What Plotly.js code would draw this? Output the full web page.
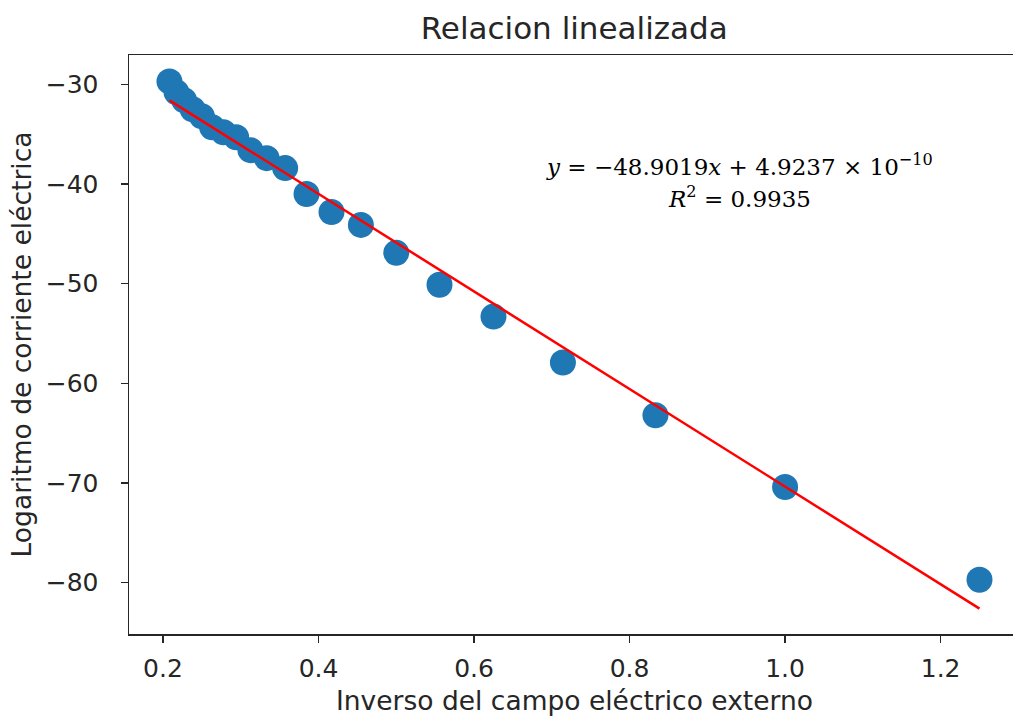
<!DOCTYPE html>
<html>
<head>
<meta charset="utf-8">
<script src="https://cdn.plot.ly/plotly-3.0.1.min.js"></script>
<style>
html, body { margin: 0; padding: 0; overflow: hidden; background: #fff; }
#chart { width: 1030px; height: 721px; }
</style>
</head>
<body>
<div id="chart"></div>
<script>
// Inverse of external electric field (x) and log of current (y)
const invField = [0.2083, 0.2174, 0.2273, 0.2381, 0.25, 0.2632, 0.2778, 0.2941, 0.3125, 0.3333,
                  0.3571, 0.3846, 0.4167, 0.4545, 0.5, 0.5556, 0.625, 0.7143, 0.8333, 1.0, 1.25];
const logCurrent = [-29.7, -30.8, -31.6, -32.5, -33.2, -34.3, -34.8, -35.3, -36.6, -37.4,
                    -38.4, -41.0, -42.8, -44.1, -46.9, -50.1, -53.3, -57.9, -63.2, -70.4, -79.7];
// Fitted line end points
const fitX = [0.2083, 1.25];
const fitY = [-31.6, -82.6];
const xTicks = [0.2, 0.4, 0.6, 0.8, 1.0, 1.2];
const xTickText = ['0.2', '0.4', '0.6', '0.8', '1.0', '1.2'];
const yTicks = [-30, -40, -50, -60, -70, -80];
const eqLine = '<i>y</i> = −48.9019<i>x</i> + 4.9237 × 10<sup>−10</sup>';
const r2Line = '<i>R</i><sup>2</sup> = 0.9935';

const tickFont = { family: 'DejaVu Sans', size: 25, color: '#262626' };
const labelFont = { family: 'DejaVu Sans', size: 26.5, color: '#262626' };

const data = [
  {
    x: invField, y: logCurrent, type: 'scatter', mode: 'markers',
    marker: { color: '#1f77b4', size: 26 }, hoverinfo: 'skip'
  },
  {
    x: fitX, y: fitY, type: 'scatter', mode: 'lines',
    line: { color: '#ff0000', width: 2.5 }, hoverinfo: 'skip'
  }
];

const layout = {
  width: 1030, height: 721,
  margin: { l: 129, r: 10, t: 55, b: 87 },
  paper_bgcolor: '#ffffff', plot_bgcolor: '#ffffff',
  showlegend: false,
  font: { family: 'DejaVu Sans' },
  title: {
    text: 'Relacion linealizada',
    font: { family: 'DejaVu Sans', size: 31, color: '#262626' },
    x: 0.5575, xref: 'container', xanchor: 'center',
    y: 1 - 28 / 721, yref: 'container', yanchor: 'middle'
  },
  xaxis: {
    range: [0.1563, 1.3021],
    tickvals: xTicks, ticktext: xTickText,
    ticks: 'outside', ticklen: 7, tickwidth: 1.3, tickcolor: '#262626',
    showline: true, linecolor: '#262626', linewidth: 1.5, mirror: true,
    showgrid: false, zeroline: false,
    tickfont: tickFont, ticklabelstandoff: 4,
    title: { text: 'Inverso del campo eléctrico externo', font: labelFont, standoff: 10 }
  },
  yaxis: {
    range: [-85.15, -27.05],
    tickvals: yTicks,
    ticks: 'outside', ticklen: 7, tickwidth: 1.3, tickcolor: '#262626',
    showline: true, linecolor: '#262626', linewidth: 1.5, mirror: true,
    showgrid: false, zeroline: false,
    tickfont: tickFont, ticklabelstandoff: 17,
    title: { text: 'Logaritmo de corriente eléctrica', font: labelFont, standoff: 6 }
  },
  annotations: [
    {
      x: 0.942, y: -38.1, xref: 'x', yref: 'y',
      text: eqLine, showarrow: false, align: 'center',
      font: { family: 'DejaVu Serif', size: 23, color: '#000000' }
    },
    {
      x: 0.942, y: -41.3, xref: 'x', yref: 'y',
      text: r2Line, showarrow: false, align: 'center',
      font: { family: 'DejaVu Serif', size: 23, color: '#000000' }
    }
  ]
};

Plotly.newPlot('chart', data, layout, { displayModeBar: false, staticPlot: true });
</script>
</body>
</html>
